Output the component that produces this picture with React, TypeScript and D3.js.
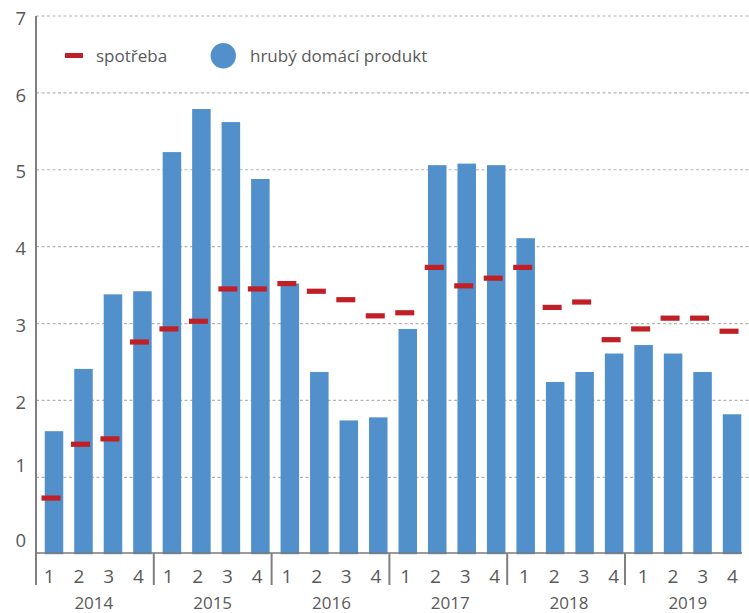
import React from "react";
import * as d3 from "d3";

const years = ["2014", "2015", "2016", "2017", "2018", "2019"];
const quarters = ["1", "2", "3", "4"];
const gdp = [
  1.6, 2.41, 3.38, 3.42,
  5.23, 5.79, 5.62, 4.88,
  3.52, 2.37, 1.74, 1.78,
  2.93, 5.06, 5.08, 5.06,
  4.11, 2.24, 2.37, 2.61,
  2.72, 2.61, 2.37, 1.82,
];
const consumption = [
  0.73, 1.43, 1.5, 2.76,
  2.93, 3.03, 3.45, 3.45,
  3.52, 3.42, 3.31, 3.1,
  3.14, 3.73, 3.49, 3.59,
  3.73, 3.21, 3.28, 2.79,
  2.93, 3.07, 3.07, 2.9,
];
const yTicks = [0, 1, 2, 3, 4, 5, 6, 7];
const legendLabels = ["spotřeba", "hrubý domácí produkt"];

const W = 749;
const H = 613;
const BLUE = "#5290cc";
const RED = "#c01f26";
const TEXT = "#595959";
const FONT = "'Open Sans', 'Noto Sans', sans-serif";

export default function App() {
  const keys = years.flatMap((y) => quarters.map((q) => `${y}-${q}`));
  const y = d3.scaleLinear().domain([0, 7]).range([554.2, 16]);
  const yLabel = d3.scaleLinear().domain([0, 1, 2, 7]).range([539.5, 464, 401, 17.5]);
  const xBar = d3
    .scaleBand<string>()
    .domain(keys)
    .range([39.26, 39.26 + 24 * 29.48])
    .paddingInner(0.372)
    .paddingOuter(0.186);
  const xLab = d3.scaleBand<string>().domain(keys).range([34.45, 34.45 + 24 * 29.7]);
  const xYear = d3.scaleBand<string>().domain(years).range([36, 36 + 6 * 117.8]);
  const axisY = 553;
  const bw = xBar.bandwidth();

  return (
    <svg
      width={W}
      height={H}
      style={{ position: "absolute", left: 0, top: 0, background: "#fff" }}
      fontFamily={FONT}
    >
      {/* gridlines */}
      {yTicks.filter((t) => t > 0).map((t) => (
        <line
          key={"g" + t}
          x1={36}
          x2={W}
          y1={y(t)}
          y2={y(t)}
          stroke="#b4b4b4"
          strokeWidth={1.2}
          strokeDasharray="3 2.5"
        />
      ))}
      {/* y labels */}
      {yTicks.map((t) => (
        <text
          key={"yl" + t}
          x={26}
          y={yLabel(t)}
          textAnchor="end"
          dominantBaseline="central"
          fontSize={18.5}
          fill={TEXT}
        >
          {t}
        </text>
      ))}
      {/* bars */}
      {keys.map((k, i) => (
        <rect
          key={"b" + k}
          x={xBar(k)!}
          y={y(gdp[i])}
          width={bw}
          height={y(0) - y(gdp[i])}
          fill={BLUE}
        />
      ))}
      {/* consumption dashes */}
      {keys.map((k, i) => (
        <rect
          key={"c" + k}
          x={xBar(k)! + bw / 2 - 3 - 9.5}
          y={y(consumption[i]) - 2.6}
          width={19}
          height={5.2}
          fill={RED}
        />
      ))}
      {/* axes */}
      <line x1={36} x2={36} y1={16} y2={585} stroke="#7f7f7f" strokeWidth={2} />
      <line x1={36} x2={742} y1={axisY} y2={axisY} stroke="#7a7a7a" strokeWidth={1.6} />
      {years.map((yr) => (
        <line
          key={"s" + yr}
          x1={xYear(yr)!}
          x2={xYear(yr)!}
          y1={axisY}
          y2={585}
          stroke="#7f7f7f"
          strokeWidth={2}
        />
      ))}
      {/* quarter labels */}
      {keys.map((k, i) => (
        <text
          key={"q" + k}
          x={xLab(k)! + xLab.bandwidth() / 2}
          y={583}
          textAnchor="middle"
          fontSize={19}
          fill={TEXT}
        >
          {quarters[i % 4]}
        </text>
      ))}
      {/* year labels */}
      {years.map((yr) => {
        const a = xLab(`${yr}-2`)! + xLab.bandwidth() / 2;
        const b = xLab(`${yr}-3`)! + xLab.bandwidth() / 2;
        return (
          <text
            key={"y" + yr}
            x={(a + b) / 2}
            y={609}
            textAnchor="middle"
            fontSize={17}
            fill={TEXT}
          >
            {yr}
          </text>
        );
      })}
      {/* legend */}
      <rect x={65} y={53} width={18} height={5} fill={RED} />
      <text x={96} y={62} fontSize={17} fill={TEXT}>
        {legendLabels[0]}
      </text>
      <circle cx={223.3} cy={55.7} r={12.7} fill={BLUE} />
      <text x={250} y={62} fontSize={17} fill={TEXT}>
        {legendLabels[1]}
      </text>
    </svg>
  );
}
